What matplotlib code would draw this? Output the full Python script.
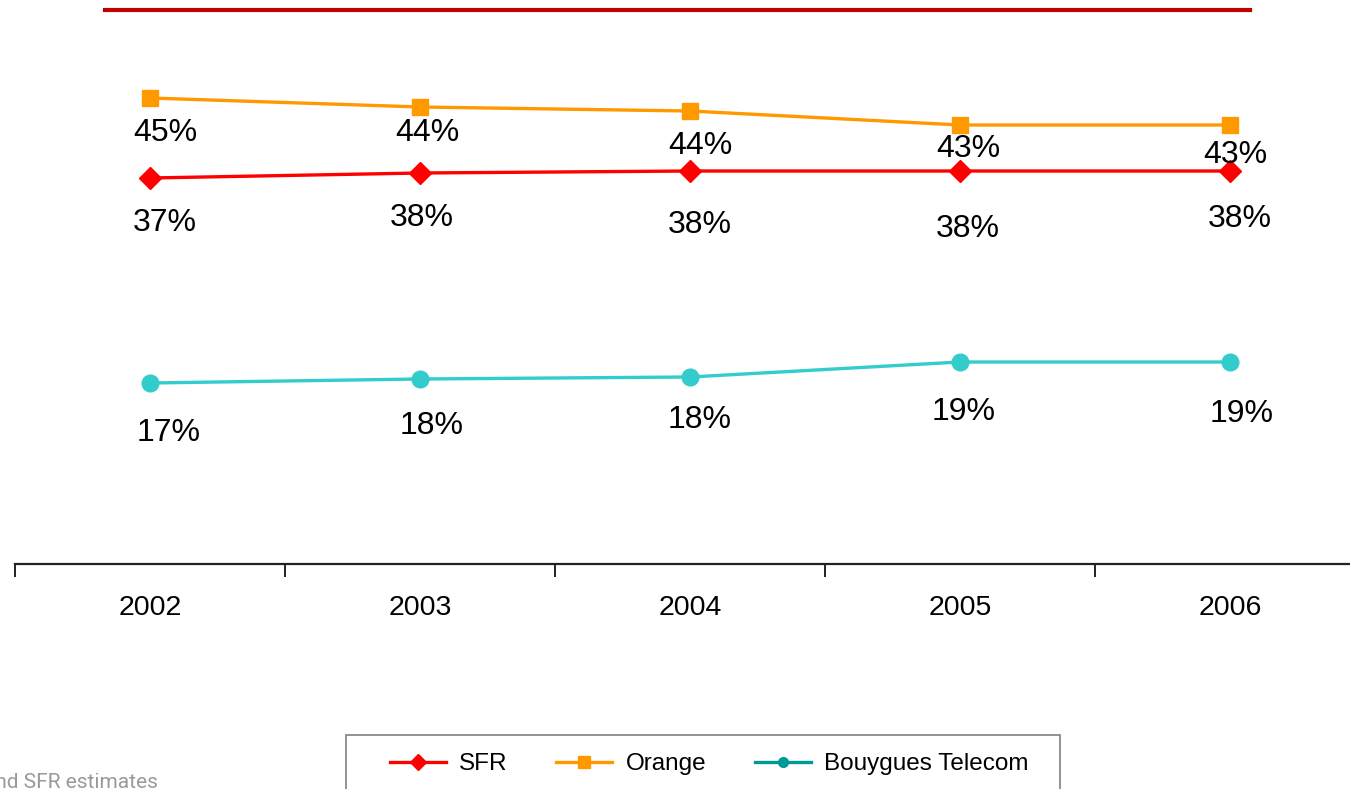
import matplotlib.pyplot as plt
from matplotlib.lines import Line2D
from matplotlib.patches import Rectangle

plt.rcParams['font.family'] = ['Liberation Sans', 'DejaVu Sans']

# data
years = ['2002', '2003', '2004', '2005', '2006']
orange = [45.0, 44.1, 43.7, 42.3, 42.3]
sfr = [37.0, 37.5, 37.7, 37.7, 37.7]
bouygues = [16.5, 16.9, 17.1, 18.6, 18.6]
orange_labels = ['45%', '44%', '44%', '43%', '43%']
sfr_labels = ['37%', '38%', '38%', '38%', '38%']
bouygues_labels = ['17%', '18%', '18%', '19%', '19%']

# label offsets from the marker, in pixels (dx, dy downwards)
orange_off = [(15, 35), (7, 26), (10, 35), (8, 24), (5, 30)]
sfr_off = [(15, 45), (2, 45), (10, 54), (8, 58), (10, 48)]
bouygues_off = [(19, 50), (12, 47), (10, 43), (4, 50), (12, 52)]

W, H = 1350, 789
fig = plt.figure(figsize=(W / 100, H / 100), dpi=100)
ax = fig.add_axes([15 / W, 225 / H, 1350 / W, 536 / H])

x = list(range(len(years)))
series = [
    (sfr, sfr_labels, sfr_off, '#FF0000', 'D', 11),
    (orange, orange_labels, orange_off, '#FF9900', 's', 12),
    (bouygues, bouygues_labels, bouygues_off, '#33CCCC', 'o', 12),
]
for vals, labs, offs, col, mk, ms in series:
    ax.plot(x, vals, color=col, lw=2.4, marker=mk, ms=ms, mec=col, mfc=col,
            clip_on=False)
    for xi, v, lab, (dx, dy) in zip(x, vals, labs, offs):
        ax.annotate(lab, (xi, v), xytext=(dx, -dy), textcoords='offset pixels',
                    ha='center', va='center', fontsize=23, color='black')

ax.set_xlim(-0.5, 4.5)
ax.set_ylim(-1.6, 52.0)
for s in ['left', 'right', 'top']:
    ax.spines[s].set_visible(False)
ax.spines['bottom'].set_linewidth(1.6)
ax.spines['bottom'].set_color('#222222')
ax.set_yticks([])
ax.set_xticks(x)
ax.set_xticklabels(years, fontsize=20.5)
ax.set_xticks([i - 0.5 for i in range(len(years) + 1)], minor=True)
ax.tick_params(axis='x', which='major', length=0, pad=22)
ax.tick_params(axis='x', which='minor', length=9, width=1.4, color='#222222')

# decorative rule at the top
fig.add_artist(Line2D([105 / W, 1250 / W], [1 - 10 / H, 1 - 10 / H],
                      color='#C00000', lw=3))

# legend box, drawn separately so its padding can match
fig.add_artist(Rectangle((346 / W, -0.05), (1060 - 346) / W,
                         (789 - 735) / H + 0.05, transform=fig.transFigure,
                         fill=False, edgecolor='#808080', lw=1.2))
handles = [
    Line2D([], [], color='#FF0000', lw=2.4, marker='D', ms=8),
    Line2D([], [], color='#FF9900', lw=2.4, marker='s', ms=9),
    Line2D([], [], color='#009999', lw=2.4, marker='o', ms=7),
]
fig.legend(handles, ['SFR', 'Orange', 'Bouygues Telecom'], ncol=3,
           loc='center left', bbox_to_anchor=(390 / W, 1 - 764 / H),
           fontsize=17.5, frameon=False, borderpad=0,
           handlelength=2.3, handletextpad=0.55, columnspacing=2.0,
           borderaxespad=0)

fig.text(158 / W, 1 - 782 / H, 'and SFR estimates', ha='right', va='center',
         fontsize=15, color='#999999', family=['Roboto', 'DejaVu Sans'])

fig.savefig('out.png', dpi=100)
